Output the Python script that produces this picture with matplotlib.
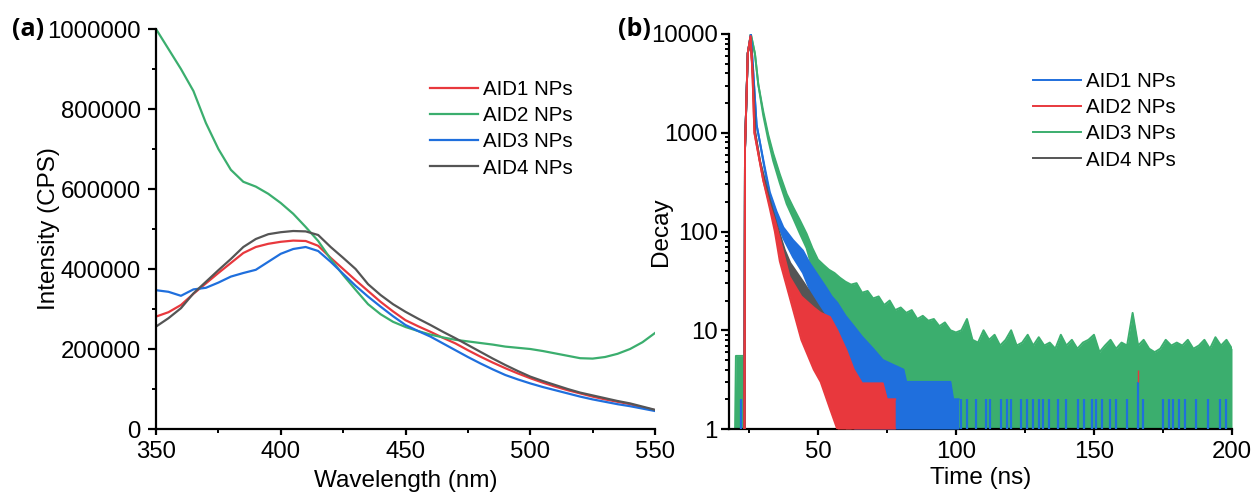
import numpy as np
import matplotlib
matplotlib.use("Agg")
import matplotlib.pyplot as plt
from matplotlib.ticker import MultipleLocator, FormatStrFormatter, LogLocator, FuncFormatter, NullFormatter

plt.rcParams['font.family'] = ['Liberation Sans', 'DejaVu Sans']

# ---- (a) emission spectra ----
wl = [350, 355, 360, 365, 370, 375, 380, 385, 390, 395, 400, 405, 410, 415, 420,
      425, 430, 435, 440, 445, 450, 455, 460, 465, 470, 475, 480, 485, 490, 495,
      500, 505, 510, 515, 520, 525, 530, 535, 540, 545, 550]
aid1 = [281000, 292000, 310000, 338000, 364000, 390000, 415000, 440000, 455000, 463000,
        468000, 471000, 470000, 458000, 428000, 400000, 372000, 345000, 318000, 294000,
        272000, 257000, 243000, 228000, 214000, 197000, 181000, 166000, 152000, 139000,
        127000, 116000, 106000, 97000, 89000, 81000, 74000, 68000, 62000, 54000, 47000]
aid2 = [1000000, 950000, 900000, 845000, 765000, 700000, 648000, 618000, 606000, 588000,
        565000, 538000, 505000, 470000, 425000, 385000, 348000, 312000, 287000, 268000,
        255000, 245000, 236000, 229000, 223000, 219000, 215000, 211000, 206000, 203000,
        200000, 195000, 189000, 183000, 177000, 176000, 180000, 188000, 200000, 217000, 240000]
aid3 = [347000, 343000, 333000, 349000, 353000, 366000, 381000, 390000, 398000, 418000,
        438000, 450000, 455000, 445000, 418000, 388000, 358000, 331000, 306000, 282000,
        260000, 245000, 231000, 214000, 197000, 180000, 164000, 149000, 135000, 124000,
        114000, 105000, 97000, 89000, 81000, 74000, 68000, 62000, 57000, 51000, 45000]
aid4 = [256000, 277000, 302000, 339000, 368000, 397000, 425000, 455000, 475000, 487000,
        492000, 495000, 494000, 485000, 455000, 428000, 400000, 362000, 335000, 312000,
        293000, 276000, 260000, 243000, 227000, 210000, 193000, 176000, 160000, 145000,
        131000, 120000, 110000, 100000, 91000, 84000, 77000, 70000, 64000, 56000, 48000]

# ---- (b) decay curves: upper / lower envelope of the noisy traces ----
t_g = [20.0, 20.3, 23.4, 23.6, 24.6, 25.7, 27.2, 28.4, 30.2, 32.0, 33.8, 36.2, 38.7,
       41.1, 43.5, 45.9, 48, 50, 52, 54, 56, 58, 60, 62, 64, 66, 68, 70, 72, 74, 76,
       78, 80, 82, 84, 86, 88, 90, 92, 94, 96, 98, 100, 102, 104, 106, 108, 110, 112,
       114, 116, 118, 120, 122, 124, 126, 128, 130, 132, 134, 136, 138, 140, 142, 144,
       146, 148, 150, 152, 154, 156, 158, 160, 162, 164, 166, 168, 170, 172, 174, 176,
       178, 180, 182, 184, 186, 188, 190, 192, 194, 196, 198, 200]
up_g = [1, 5.5, 5.5, 700, 6400, 10000, 6300, 3100, 1650, 960, 620, 380, 240,
        175, 130, 95, 68, 52, 46, 41, 38, 34, 31, 29, 30, 24, 25, 21, 22, 18, 20,
        16, 17, 15, 16, 13, 14, 12.5, 13, 11, 12, 10, 9.5, 10, 13, 8, 7.5, 10, 8,
        9, 7, 8, 10, 7, 7.5, 9, 7, 8.5, 7, 7.5, 6.5, 9, 7, 8, 6.5,
        7.5, 8, 9, 6, 7, 8, 6.5, 7.5, 7, 15, 7, 8, 6.5, 6, 6.5, 8,
        7, 7.5, 7, 8, 6.5, 7, 8, 6.5, 8.5, 7, 8, 6.5]
lo_g = [1, 1, 1, 700, 6400, 10000, 6300, 3100, 1500, 850, 520, 310, 190,
        135, 95, 68, 42, 28, 22, 17, 14, 11, 8, 6, 5, 3.5, 3, 2.2, 1.6, 1, 1,
        1, 1, 1, 1, 1, 1, 1, 1, 1, 1, 1, 1, 1, 1, 1, 1, 1, 1,
        1, 1, 1, 1, 1, 1, 1, 1, 1, 1, 1, 1, 1, 1, 1, 1,
        1, 1, 1, 1, 1, 1, 1, 1, 1, 1, 1, 1, 1, 1, 1, 1,
        1, 1, 1, 1, 1, 1, 1, 1, 1, 1, 1, 1]

t_b = [23.4, 23.6, 24.6, 25.7, 26.5, 27.8, 29.0, 30.8, 32.6, 35.0, 37.5, 41.0, 44.6,
       47, 50, 53, 55, 57, 60, 63, 66, 70, 73.5, 77, 81, 82, 90, 98, 99, 101]
up_b = [1, 700, 6400, 9800, 4500, 1200, 800, 440, 250, 160, 110, 82, 64,
        48, 36, 27, 22, 19, 14, 11, 8.6, 6.5, 5, 4.5, 4, 3, 3, 3, 2, 2]
lo_b = [1, 700, 6400, 9800, 4500, 1200, 800, 410, 220, 130, 85, 55, 38,
        26, 14, 8, 6, 4.5, 2.5, 1, 1, 1, 1, 1, 1, 1, 1, 1, 1, 1]
# isolated blue channels (count 2) in the tail
t_b_spikes = [22.0, 101.9, 104.1, 107.4, 111.0, 112.5, 116.2, 118.4, 119.9, 123.5, 125.7,
              127.9, 130.1, 131.6, 133.8, 136.8, 139.7, 144.1, 146.3, 149.3, 150.7,
              152.9, 155.9, 158.1, 161.8, 167.6, 175.0, 177.2, 178.7, 180.9, 183.1,
              186.8, 191.2, 195.6, 197.8]

t_r = [23.4, 23.6, 24.6, 25.6, 26.3, 27.0, 29.0, 30.2, 32.6, 34.4, 36.2, 39.7, 44,
       48.5, 51, 54.4, 57, 60.3, 63, 66, 70, 73.5, 75, 78]
up_r = [1, 700, 6400, 9500, 4000, 1000, 500, 330, 185, 130, 85, 35, 22,
        17, 15, 13.6, 10, 6.3, 4, 2.9, 2.9, 2.9, 2, 2]
lo_r = [1, 700, 6400, 9500, 4000, 1000, 500, 330, 170, 100, 50, 22, 8,
        4, 3, 1.6, 1, 1, 1, 1, 1, 1, 1, 1]

t_k = [23.4, 23.6, 24.6, 25.6, 26.4, 27.3, 29.0, 30.5, 32.0, 35.0, 38.0, 40.0, 45.0,
       50.0, 55.0, 58.0, 60.0, 61.0, 62.0]
up_k = [1, 700, 6400, 9000, 4000, 1000, 520, 350, 240, 120, 65, 48, 30,
        18, 11, 8, 6, 3, 2]
lo_k = [1, 700, 6400, 9000, 4000, 1000, 520, 350, 230, 90, 40, 25, 12,
        6, 3, 1.5, 1, 1, 1]

c_red = '#E8383D'
c_green = '#3BAE6E'
c_blue = '#1F6FDD'
c_gray = '#555555'

fig = plt.figure(figsize=(12.55, 4.97), dpi=100)
ax1 = fig.add_axes([156/1255, 1-429/497, 499/1255, 400/497])
ax2 = fig.add_axes([729/1255, 1-429/497, 503/1255, 395/497])

tick_fs = 17.3
lab_fs = 17.5
leg_fs = 14.8

for ax in (ax1, ax2):
    ax.spines['top'].set_visible(False)
    ax.spines['right'].set_visible(False)
    ax.spines['left'].set_linewidth(1.6)
    ax.spines['bottom'].set_linewidth(1.6)
    ax.tick_params(axis='x', which='major', direction='out', length=4.5, width=1.6,
                   labelsize=tick_fs, pad=4)
    ax.tick_params(axis='y', which='major', direction='out', length=5.5, width=1.6,
                   labelsize=tick_fs, pad=5.5)
    ax.tick_params(which='minor', direction='out', length=3, width=1.4)
ax2.tick_params(axis='y', which='major', pad=2.5)

# panel (a)
ax1.plot(wl, aid1, color=c_red, lw=1.6, label='AID1 NPs')
ax1.plot(wl, aid2, color=c_green, lw=1.6, label='AID2 NPs')
ax1.plot(wl, aid3, color=c_blue, lw=1.6, label='AID3 NPs')
ax1.plot(wl, aid4, color=c_gray, lw=1.6, label='AID4 NPs')
ax1.set_xlim(350, 550)
ax1.set_ylim(0, 1000000)
ax1.xaxis.set_major_locator(MultipleLocator(50))
ax1.xaxis.set_minor_locator(MultipleLocator(25))
ax1.yaxis.set_major_locator(MultipleLocator(200000))
ax1.yaxis.set_minor_locator(MultipleLocator(100000))
ax1.yaxis.set_major_formatter(FormatStrFormatter('%d'))
ax1.set_xlabel('Wavelength (nm)', fontsize=lab_fs, labelpad=5)
ax1.set_ylabel('Intensity (CPS)', fontsize=lab_fs)
ax1.yaxis.set_label_coords((60-156)/499, 0.5)
ax1.legend(frameon=False, fontsize=leg_fs, loc='upper left',
           bbox_to_anchor=(430/1255, 1-80/497), bbox_transform=fig.transFigure,
           handlelength=2.33, handletextpad=0.24, labelspacing=0.35,
           borderpad=0, borderaxespad=0)

# panel (b)
def band(ax, t, up, lo, color, z, label=None):
    ax.fill_between(t, lo, up, color=color, lw=0, zorder=z)
    ax.plot(t, lo, color=color, lw=1.4, zorder=z)
    return ax.plot(t, up, color=color, lw=1.4, zorder=z, label=label)[0]

h3 = band(ax2, t_g, up_g, lo_g, c_green, 2, 'AID3 NPs')
h1 = band(ax2, t_b, up_b, lo_b, c_blue, 3, 'AID1 NPs')
ax2.vlines(t_b_spikes, 1, 2, color=c_blue, lw=1.6, zorder=3)
ax2.vlines([165.9], 1, 3, color=c_blue, lw=1.6, zorder=3)
ax2.vlines([165.9], 3, 4, color=c_red, lw=1.0, zorder=3)
h4 = band(ax2, t_k, up_k, lo_k, c_gray, 4, 'AID4 NPs')
h2 = band(ax2, t_r, up_r, lo_r, c_red, 5, 'AID2 NPs')

ax2.set_yscale('log')
ax2.set_xlim(17.8, 200)
ax2.set_ylim(1, 10000)
ax2.xaxis.set_major_locator(MultipleLocator(50))
ax2.xaxis.set_minor_locator(MultipleLocator(25))
ax2.yaxis.set_major_locator(LogLocator(base=10))
ax2.yaxis.set_minor_locator(LogLocator(base=10, subs=np.arange(2, 10)))
ax2.yaxis.set_major_formatter(FuncFormatter(lambda v, p: '%d' % v))
ax2.yaxis.set_minor_formatter(NullFormatter())
ax2.set_xlabel('Time (ns)', fontsize=lab_fs, labelpad=3)
ax2.set_ylabel('Decay', fontsize=lab_fs)
ax2.yaxis.set_label_coords((672-729)/503, 0.5)
ax2.legend(handles=[h1, h2, h3, h4], frameon=False, fontsize=leg_fs, loc='upper left',
           bbox_to_anchor=(1033/1255, 1-72/497), bbox_transform=fig.transFigure,
           handlelength=2.33, handletextpad=0.24, labelspacing=0.35,
           borderpad=0, borderaxespad=0)

fig.text(28/1255, 1-30/497, '(a)', fontsize=18, fontweight='bold',
         family=['Open Sans', 'DejaVu Sans'], ha='center', va='center')
fig.text(634/1255, 1-30/497, '(b)', fontsize=18, fontweight='bold',
         family=['Open Sans', 'DejaVu Sans'], ha='center', va='center')

fig.savefig('out.png', dpi=100)
